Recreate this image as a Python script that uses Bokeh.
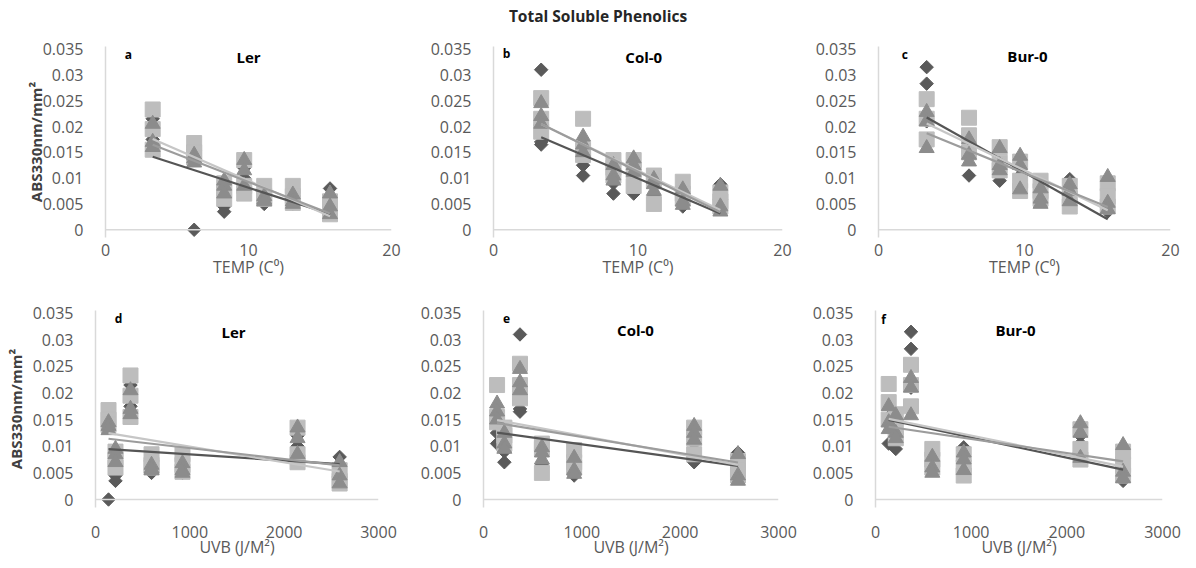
import numpy as np
from bokeh.plotting import figure
from bokeh.models import Range1d, FixedTicker, CustomJSTickFormatter, Span, Label, Div
from bokeh.layouts import column, row
from bokeh.embed import file_html
from bokeh.resources import INLINE

# ---------------- data ----------------
TEMP = [3.3, 6.2, 8.3, 9.7, 11.1, 13.1, 15.7]
UVB = [371, 138, 212, 2142, 594, 922, 2588]
TEMP_TICKS = [0, 10, 20]
UVB_TICKS = [0, 1000, 2000, 3000]
Y_TICKS = [0, 0.005, 0.01, 0.015, 0.02, 0.025, 0.03, 0.035]

LER_D = [[0.0215, 0.0160, 0.0175], [0.0000, 0.0140, 0.0135], [0.0045, 0.0035, 0.0065],
         [0.0100, 0.0120, 0.0080], [0.0050, 0.0065, 0.0070], [0.0050, 0.0060, 0.0065],
         [0.0080, 0.0040, 0.0030]]
LER_S = [[0.0233, 0.0195, 0.0155], [0.0168, 0.0150, 0.0140], [0.0090, 0.0075, 0.0060],
         [0.0135, 0.0085, 0.0070], [0.0085, 0.0065, 0.0060], [0.0085, 0.0065, 0.0052],
         [0.0055, 0.0035, 0.0030]]
LER_T = [[0.0205, 0.0170, 0.0160], [0.0145, 0.0138, 0.0130], [0.0095, 0.0085, 0.0070],
         [0.0135, 0.0115, 0.0085], [0.0065, 0.0058, 0.0055], [0.0068, 0.0055, 0.0050],
         [0.0070, 0.0045, 0.0030]]

COL_D = [[0.0310, 0.0170, 0.0165], [0.0125, 0.0105, 0.0150], [0.0070, 0.0090, 0.0115],
         [0.0105, 0.0070, 0.0120], [0.0090, 0.0085, 0.0065], [0.0045, 0.0060, 0.0065],
         [0.0088, 0.0045, 0.0040]]
COL_S = [[0.0255, 0.0215, 0.0190], [0.0215, 0.0155, 0.0145], [0.0135, 0.0120, 0.0105],
         [0.0135, 0.0085, 0.0115], [0.0105, 0.0095, 0.0050], [0.0093, 0.0070, 0.0060],
         [0.0072, 0.0055, 0.0045]]
COL_T = [[0.0245, 0.0220, 0.0205], [0.0180, 0.0165, 0.0150], [0.0125, 0.0105, 0.0095],
         [0.0138, 0.0125, 0.0112], [0.0098, 0.0075, 0.0088], [0.0078, 0.0055, 0.0048],
         [0.0085, 0.0045, 0.0035]]

BUR_D = [[0.0315, 0.0283, 0.0210], [0.0105, 0.0140, 0.0155], [0.0095, 0.0120, 0.0130],
         [0.0095, 0.0105, 0.0120], [0.0060, 0.0075, 0.0065], [0.0098, 0.0092, 0.0070],
         [0.0040, 0.0035, 0.0045]]
BUR_S = [[0.0253, 0.0215, 0.0175], [0.0217, 0.0183, 0.0150], [0.0160, 0.0130, 0.0115],
         [0.0132, 0.0075, 0.0095], [0.0095, 0.0075, 0.0060], [0.0085, 0.0060, 0.0045],
         [0.0090, 0.0065, 0.0045]]
BUR_T = [[0.0228, 0.0210, 0.0158], [0.0175, 0.0145, 0.0132], [0.0158, 0.0125, 0.0115],
         [0.0143, 0.0125, 0.0078], [0.0080, 0.0060, 0.0050], [0.0088, 0.0075, 0.0055],
         [0.0102, 0.0052, 0.0040]]

TITLE = "Total Soluble Phenolics"
Y_LABEL = "ABS330nm/mm²"
TEMP_LABEL = "TEMP (C⁰)"
UVB_LABEL = "UVB (J/M²)"

# ---------------- style ----------------
FONT = "Open Sans"
GRAY_TXT = "#595959"
AXIS_LINE = "#d9d9d9"
SERIES = [  # marker, size, angle, fill, trend colour
    ("square", 9.5, np.pi / 4, "#5a5a5a", "#555555"),
    ("square", 15, 0.0, "#bdbdbd", "#c6c6c6"),
    ("triangle", 15, 0.0, "#8c8c8c", "#9c9c9c"),
]

yfmt = "return tick.toFixed(3).replace(/0+$/, '').replace(/\\.$/, '');"


def panel(xs, data, xr, xticks, width, height, bl, br, bt, bb,
          letter, lpos, name, npos, xlabel, ylabel, lab_standoff, title_standoff,
          ylab_standoff=-6):
    p = figure(width=width, height=height, output_backend="svg", toolbar_location=None,
               x_range=Range1d(*xr), y_range=Range1d(-0.0015, 0.0355),
               min_border_left=bl, min_border_right=br,
               min_border_top=bt, min_border_bottom=bb)
    p.outline_line_color = None
    p.grid.visible = False
    p.background_fill_color = "white"

    # axes
    p.xaxis.ticker = FixedTicker(ticks=xticks)
    p.yaxis.ticker = FixedTicker(ticks=Y_TICKS)
    p.yaxis.formatter = CustomJSTickFormatter(code=yfmt)
    for ax in (p.xaxis[0], p.yaxis[0]):
        ax.major_tick_line_color = None
        ax.minor_tick_line_color = None
        ax.major_label_text_font = FONT
        ax.major_label_text_font_size = "16px"
        ax.major_label_text_color = GRAY_TXT
        ax.axis_label_text_font = FONT
    p.xaxis.axis_line_color = None
    p.yaxis.axis_line_color = AXIS_LINE
    p.yaxis.axis_line_width = 1.5
    p.yaxis.major_label_standoff = 16
    p.xaxis.major_label_standoff = lab_standoff
    p.xaxis.axis_label = xlabel
    p.xaxis.axis_label_text_font_size = "16px"
    p.xaxis.axis_label_text_font_style = "normal"
    p.xaxis.axis_label_text_color = GRAY_TXT
    p.xaxis.axis_label_standoff = title_standoff
    if ylabel:
        p.yaxis.axis_label = ylabel
        p.yaxis.axis_label_text_font_size = "15px"
        p.yaxis.axis_label_text_font_style = "bold"
        p.yaxis.axis_label_text_color = "#404040"
        p.yaxis.axis_label_standoff = ylab_standoff
    p.add_layout(Span(location=0, dimension="width", line_color=AXIS_LINE, line_width=1.5))

    # markers
    for vals, (marker, size, angle, fill, _) in zip(data, SERIES):
        x = [xs[i] for i in range(len(xs)) for _v in vals[i]]
        y = [v for grp in vals for v in grp]
        p.scatter(x, y, marker=marker, size=size, angle=angle,
                  fill_color=fill, line_color=fill)
    # linear trendlines
    for vals, (marker, size, angle, fill, tcol) in zip(data, SERIES):
        x = np.array([xs[i] for i in range(len(xs)) for _v in vals[i]], dtype=float)
        y = np.array([v for grp in vals for v in grp])
        k, b = np.polyfit(x, y, 1)
        xe = np.array([x.min(), x.max()])
        p.line(xe, k * xe + b, line_color=tcol, line_width=2.2)

    p.add_layout(Label(x=lpos[0], y=lpos[1], text=letter, text_font=FONT,
                       text_font_size="12px", text_font_style="bold", text_color="black",
                       text_align="center", text_baseline="middle"))
    p.add_layout(Label(x=npos[0], y=npos[1], text=name, text_font=FONT,
                       text_font_size="15px", text_font_style="bold", text_color="black",
                       text_align="center", text_baseline="middle"))
    return p


TITLE_H = 30
TOP_H, BOT_H = 285 - TITLE_H, 275
TOP_BT = 46 - TITLE_H
a = panel(TEMP, [LER_D, LER_S, LER_T], (0, 20), TEMP_TICKS, 420, TOP_H, 105, 29, TOP_BT, 48,
          "a", (1.6, 0.0340), "Ler", (10.0, 0.0335), TEMP_LABEL, Y_LABEL, 0, -3)
b = panel(TEMP, [COL_D, COL_S, COL_T], (0, 20), TEMP_TICKS, 385, TOP_H, 73, 23, TOP_BT, 48,
          "b", (0.9, 0.0342), "Col-0", (10.4, 0.0335), TEMP_LABEL, None, 0, -3)
c = panel(TEMP, [BUR_D, BUR_S, BUR_T], (0, 20), TEMP_TICKS, 383, TOP_H, 73, 18, TOP_BT, 48,
          "c", (1.8, 0.0340), "Bur-0", (10.2, 0.0336), TEMP_LABEL, None, 0, -3)
d = panel(UVB, [LER_D, LER_S, LER_T], (0, 3000), UVB_TICKS, 415, BOT_H, 95, 37, 25, 48,
          "d", (244, 0.0340), "Ler", (1463, 0.0315), UVB_LABEL, Y_LABEL, 12, -5, 4)
e = panel(UVB, [COL_D, COL_S, COL_T], (0, 3000), UVB_TICKS, 390, BOT_H, 68, 27, 25, 48,
          "e", (234, 0.0340), "Col-0", (1546, 0.0319), UVB_LABEL, None, 12, -5)
f = panel(UVB, [BUR_D, BUR_S, BUR_T], (0, 3000), UVB_TICKS, 383, BOT_H, 70, 26, 25, 48,
          "f", (84, 0.0339), "Bur-0", (1463, 0.0319), UVB_LABEL, None, 12, -5)

title_div = Div(
    text=f'<div style="font-family: \'Open Sans\'; font-size: 15.5px; font-weight: bold; '
         f'color: #262626; text-align: center; width: 1196px; padding-top: 6px; '
         f'line-height: 20px;">{TITLE}</div>',
    width=1188, height=TITLE_H, margin=(0, 0, 0, 0))

layout = column(title_div, row(a, b, c), row(d, e, f), spacing=0)
open("out.html", "w").write(file_html(layout, INLINE))
